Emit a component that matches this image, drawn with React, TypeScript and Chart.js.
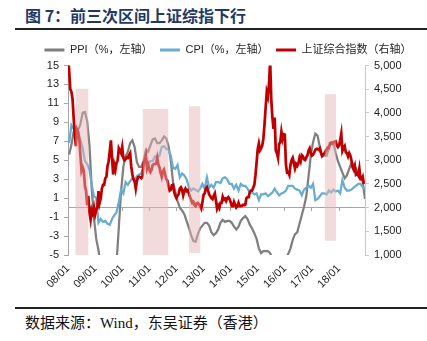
import React, { useEffect, useRef } from 'react';
import { Chart, registerables } from 'chart.js';

Chart.register(...registerables);

// x axis: months since 2008/01 (0 = 2008/01)
const xTickMonths = [0, 12, 24, 36, 48, 60, 72, 84, 96, 108, 120];
const xTickLabels = ['08/01', '09/01', '10/01', '11/01', '12/01', '13/01', '14/01', '15/01', '16/01', '17/01', '18/01'];
const leftTicks = [-5, -3, -1, 1, 3, 5, 7, 9, 11, 13, 15];
const rightTicks = [1000, 1500, 2000, 2500, 3000, 3500, 4000, 4500, 5000];

const seriesNames = ['PPI（%，左轴）', 'CPI（%，左轴）', '上证综合指数（右轴）'];
const seriesColors = ['#7f7f7f', 'rgb(104,172,210)', '#c00000'];

// PPI yoy %, monthly 2008/01 - 2018/12
const ppi = [
  5.6, 6.6, 8.0, 8.1, 8.2, 8.8, 10.0, 10.1, 9.1, 6.6, 2.0, -1.1,
  -3.3, -4.5, -6.0, -6.6, -7.2, -7.8, -8.2, -7.9, -7.0, -5.8, -2.1, 1.7,
  4.3, 5.4, 5.9, 6.8, 7.1, 6.4, 4.8, 4.3, 4.3, 5.0, 6.1, 5.9,
  6.6, 7.2, 7.3, 6.8, 6.8, 7.1, 7.5, 7.3, 6.5, 5.0, 2.7, 1.7,
  0.7, 0.0, -0.3, -0.7, -1.4, -2.1, -2.9, -3.5, -3.6, -2.8, -2.2, -1.9,
  -1.6, -1.6, -1.9, -2.6, -2.9, -2.7, -2.3, -1.6, -1.3, -1.5, -1.4, -1.4,
  -1.6, -2.0, -2.3, -2.0, -1.4, -1.1, -0.9, -1.2, -1.8, -2.2, -2.7, -3.3,
  -4.3, -4.8, -4.6, -4.6, -4.6, -4.8, -5.4, -5.9, -5.9, -5.9, -5.9, -5.9,
  -5.3, -4.9, -4.3, -3.4, -2.8, -2.6, -1.7, -0.8, 0.1, 1.2, 3.3, 5.5,
  6.9, 7.8, 7.6, 6.4, 5.5, 5.5, 5.5, 6.3, 6.9, 6.9, 5.8, 4.9,
  4.3, 3.7, 3.1, 3.4, 4.1, 4.7, 4.6, 4.1, 3.6, 3.3, 2.7, 0.9,
];

// CPI yoy %, monthly 2008/01 - 2018/12
const cpi = [
  6.8, 8.7, 8.3, 8.5, 7.7, 7.1, 6.3, 4.9, 4.6, 4.0, 2.4, 1.2,
  1.0, -1.6, -1.2, -1.5, -1.4, -1.7, -1.8, -1.2, -0.8, -0.5, 0.6, 1.9,
  1.5, 2.7, 2.4, 2.8, 3.1, 2.9, 3.3, 3.5, 3.6, 4.4, 5.1, 4.6,
  4.9, 4.9, 5.4, 5.3, 5.5, 6.4, 6.5, 6.2, 6.1, 5.5, 4.2, 4.1,
  4.5, 3.2, 3.6, 3.4, 3.0, 2.2, 1.8, 2.0, 1.9, 1.7, 2.0, 2.5,
  2.0, 3.2, 2.1, 2.4, 2.1, 2.7, 2.7, 2.6, 3.1, 3.2, 3.0, 2.5,
  2.5, 2.0, 2.4, 1.8, 2.5, 2.3, 2.3, 2.0, 1.6, 1.6, 1.4, 1.5,
  0.8, 1.4, 1.4, 1.5, 1.2, 1.4, 1.6, 2.0, 1.6, 1.3, 1.5, 1.6,
  1.8, 2.3, 2.3, 2.3, 2.0, 1.9, 1.8, 1.3, 1.9, 2.1, 2.3, 2.1,
  2.5, 0.8, 0.9, 1.2, 1.5, 1.5, 1.4, 1.8, 1.6, 1.9, 1.7, 1.8,
  1.5, 2.9, 2.1, 1.8, 1.8, 1.9, 2.1, 2.3, 2.5, 2.5, 2.2, 1.9,
];

// Shanghai Composite, sampled twice a month (start, mid) 2008/01 - 2018/12
const sse = [
  5270, 4900, 4500, 4450, 4300, 3900, 3550, 3300, 3650, 3600, 3450, 3100,
  2780, 2850, 2780, 2450, 2350, 2050, 2250, 1900, 1750, 1950, 1880, 2000,
  1850, 1950, 2000, 2350, 2100, 2200, 2400, 2480, 2480, 2620, 2650, 2880,
  2980, 3200, 3420, 3050, 2700, 2900, 2800, 2950, 3000, 3250, 3200, 3150,
  3280, 3050, 3000, 3020, 3060, 3050, 3110, 3150, 2870, 2700, 2600, 2550,
  2400, 2560, 2640, 2650, 2640, 2620, 2660, 2950, 3000, 3100, 2830, 2900,
  2800, 2750, 2800, 2900, 2920, 2920, 2930, 3050, 2910, 2850, 2740, 2650,
  2760, 2800, 2700, 2600, 2570, 2450, 2360, 2380, 2470, 2480, 2330, 2250,
  2200, 2250, 2290, 2400, 2430, 2380, 2260, 2350, 2400, 2350, 2370, 2300,
  2230, 2170, 2100, 2120, 2050, 2030, 2090, 2100, 2070, 2030, 1980, 2100,
  2270, 2300, 2390, 2430, 2360, 2280, 2240, 2200, 2180, 2250, 2300, 2150,
  1980, 2040, 1990, 2100, 2100, 2230, 2170, 2190, 2140, 2200, 2220, 2180,
  2120, 2030, 2030, 2120, 2060, 2000, 2030, 2100, 2030, 2030, 2040, 2060,
  2050, 2060, 2200, 2220, 2220, 2330, 2360, 2360, 2420, 2480, 2680, 2950,
  3230, 3350, 3210, 3250, 3310, 3450, 3750, 4100, 4440, 4350, 4610, 5100,
  4280, 3900, 3660, 3900, 3200, 3150, 3050, 3350, 3380, 3600, 3450, 3550,
  3540, 2900, 2740, 2750, 2690, 2900, 3000, 3050, 2940, 2830, 2920, 2880,
  2930, 3050, 2980, 3110, 3085, 3020, 3005, 3060, 3100, 3200, 3250, 3150,
  3100, 3120, 3160, 3220, 3240, 3240, 3220, 3250, 3150, 3090, 3120, 3140,
  3190, 3230, 3270, 3260, 3360, 3370, 3350, 3380, 3390, 3400, 3320, 3280,
  3310, 3420, 3560, 3200, 3260, 3300, 3170, 3150, 3080, 3150, 3100, 3000,
  2850, 2800, 2880, 2700, 2720, 2680, 2820, 2600, 2600, 2650, 2500,
];

// Shaded periods (months since 2008/01) and their extent on the left axis
const bandStart = [3.2, 33.0, 53.5, 113.6];
const bandEnd = [9.1, 44.5, 58.7, 118.8];
const bandTop = [12.55, 10.4, 10.7, 11.96];
const bandBottom = [-5, -5, -4.8, -3.5];

const FONT = "'Liberation Sans', 'Noto Sans CJK SC', sans-serif";

export default function App() {
  const ref = useRef<HTMLCanvasElement | null>(null);

  useEffect(() => {
    if (!ref.current) return;
    const setYearTicks = (s: any) => {
      s.ticks = xTickMonths.map((v) => ({ value: v }));
    };
    const datasets: any[] = [
      {
        label: seriesNames[0],
        data: ppi.map((v, i) => ({ x: i + 0.5, y: v })),
        borderColor: seriesColors[0],
        backgroundColor: seriesColors[0],
        borderWidth: 2.25,
        pointRadius: 0,
        tension: 0,
        xAxisID: 'x',
        yAxisID: 'y',
        order: 3,
      },
      {
        label: seriesNames[1],
        data: cpi.map((v, i) => ({ x: i + 0.5, y: v })),
        borderColor: seriesColors[1],
        backgroundColor: seriesColors[1],
        borderWidth: 2.25,
        pointRadius: 0,
        tension: 0,
        xAxisID: 'x',
        yAxisID: 'y',
        order: 2,
      },
      {
        label: seriesNames[2],
        data: sse.map((v, i) => ({ x: i / 2, y: v })),
        borderColor: seriesColors[2],
        backgroundColor: seriesColors[2],
        borderWidth: 2.75,
        pointRadius: 0,
        tension: 0,
        xAxisID: 'x',
        yAxisID: 'y1',
        order: 1,
      },
    ];
    bandStart.forEach((s, i) => {
      datasets.push({
        label: 'band' + i,
        data: [
          { x: s, y: bandTop[i] },
          { x: bandEnd[i], y: bandTop[i] },
        ],
        borderWidth: 0,
        borderColor: 'rgba(0,0,0,0)',
        backgroundColor: 'rgba(230,180,180,0.48)',
        pointRadius: 0,
        fill: { value: bandBottom[i] },
        xAxisID: 'x',
        yAxisID: 'y',
        order: 0,
      });
    });

    const chart = new Chart(ref.current, {
      type: 'line',
      data: { datasets },
      options: {
        responsive: false,
        animation: false,
        events: [],
        layout: { padding: { left: 29, right: 0, top: 1, bottom: 0 } },
        font: { family: FONT },
        plugins: {
          tooltip: { enabled: false },
          legend: {
            display: true,
            position: 'top',
            labels: {
              boxWidth: 20,
              boxHeight: 3,
              padding: 7.5,
              color: '#262626',
              font: { family: FONT, size: 11 },
              generateLabels: () =>
                seriesNames.map((name, i) => ({
                  text: name,
                  fillStyle: seriesColors[i],
                  strokeStyle: seriesColors[i],
                  lineWidth: 0,
                  hidden: false,
                  datasetIndex: i,
                  fontColor: '#262626',
                })),
            },
          },
        },
        scales: {
          x: {
            type: 'linear',
            position: 'bottom',
            min: 0,
            max: 131.5,
            afterBuildTicks: setYearTicks,
            afterFit: (s: any) => {
              s.height = 47;
            },
            grid: { display: false, drawTicks: false },
            border: { display: false },
            ticks: {
              autoSkip: false,
              minRotation: 45,
              maxRotation: 45,
              padding: 7,
              color: '#222',
              font: { family: FONT, size: 11 },
              callback: (v: any) => {
                const k = xTickMonths.indexOf(Number(v));
                return k >= 0 ? xTickLabels[k] : '';
              },
            },
          },
          x2: {
            type: 'linear',
            axis: 'x',
            position: { y: 0 },
            min: 0,
            max: 131.5,
            afterBuildTicks: setYearTicks,
            grid: { display: true, drawOnChartArea: false, drawTicks: true, tickLength: 3, color: '#a6a6a6' },
            border: { display: true, color: '#a6a6a6', width: 1 },
            ticks: { display: false },
          },
          y: {
            type: 'linear',
            position: 'left',
            min: -5,
            max: 15,
            afterBuildTicks: (s: any) => {
              s.ticks = leftTicks.map((v) => ({ value: v }));
            },
            afterFit: (s: any) => {
              s.width = 39;
            },
            grid: { drawOnChartArea: false, drawTicks: true, tickLength: 4, color: '#a6a6a6' },
            border: { display: true, color: '#a6a6a6' },
            ticks: { padding: 5, color: '#222', font: { family: FONT, size: 11 } },
          },
          y1: {
            type: 'linear',
            position: 'right',
            min: 1000,
            max: 5000,
            afterBuildTicks: (s: any) => {
              s.ticks = rightTicks.map((v) => ({ value: v }));
            },
            afterFit: (s: any) => {
              s.width = 62;
            },
            grid: { drawOnChartArea: false, drawTicks: true, tickLength: 4, color: '#c8c8c8' },
            border: { display: true, color: '#c8c8c8' },
            ticks: {
              padding: 5,
              color: '#222',
              font: { family: FONT, size: 11 },
              callback: (v: any) => Number(v).toLocaleString('en-US'),
            },
          },
        },
      } as any,
    });
    return () => chart.destroy();
  }, []);

  return (
    <div
      style={{
        position: 'absolute',
        left: 0,
        top: 0,
        width: 427,
        height: 341,
        background: '#fff',
        overflow: 'hidden',
      }}
    >
      <div
        style={{
          position: 'absolute',
          left: 25,
          top: 5,
          fontFamily: "'Noto Sans CJK SC', sans-serif",
          fontWeight: 'bold',
          fontSize: 16,
          lineHeight: '20px',
          color: '#1f3a66',
          whiteSpace: 'nowrap',
        }}
      >
        图 7：前三次区间上证综指下行
      </div>
      <div style={{ position: 'absolute', left: 15, top: 28, width: 412, height: 2, background: '#222' }} />
      <canvas
        ref={ref}
        width={427}
        height={266}
        style={{ position: 'absolute', left: 0, top: 36, width: 427, height: 266 }}
      />
      <div style={{ position: 'absolute', left: 15, top: 307, width: 412, height: 2, background: '#222' }} />
      <div
        style={{
          position: 'absolute',
          left: 25,
          top: 314,
          fontFamily: "'Liberation Serif', 'Noto Sans CJK SC', serif",
          fontSize: 15,
          lineHeight: '18px',
          color: '#111',
          whiteSpace: 'nowrap',
        }}
      >
        数据来源：Wind，东吴证券（香港）
      </div>
    </div>
  );
}
